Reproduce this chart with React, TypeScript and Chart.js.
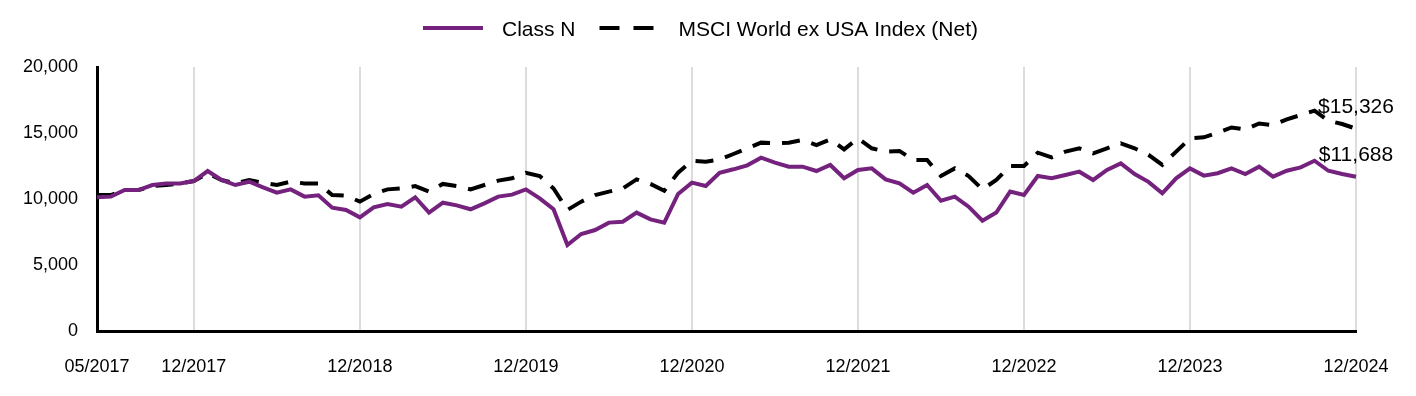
import React, { useEffect, useRef } from "react";
import { Chart, registerables } from "chart.js";

Chart.register(...registerables);

const months: string[] = [
  "05/2017", "06/2017", "07/2017", "08/2017", "09/2017", "10/2017", "11/2017", "12/2017",
  "01/2018", "02/2018", "03/2018", "04/2018", "05/2018", "06/2018", "07/2018", "08/2018", "09/2018", "10/2018", "11/2018", "12/2018",
  "01/2019", "02/2019", "03/2019", "04/2019", "05/2019", "06/2019", "07/2019", "08/2019", "09/2019", "10/2019", "11/2019", "12/2019",
  "01/2020", "02/2020", "03/2020", "04/2020", "05/2020", "06/2020", "07/2020", "08/2020", "09/2020", "10/2020", "11/2020", "12/2020",
  "01/2021", "02/2021", "03/2021", "04/2021", "05/2021", "06/2021", "07/2021", "08/2021", "09/2021", "10/2021", "11/2021", "12/2021",
  "01/2022", "02/2022", "03/2022", "04/2022", "05/2022", "06/2022", "07/2022", "08/2022", "09/2022", "10/2022", "11/2022", "12/2022",
  "01/2023", "02/2023", "03/2023", "04/2023", "05/2023", "06/2023", "07/2023", "08/2023", "09/2023", "10/2023", "11/2023", "12/2023",
  "01/2024", "02/2024", "03/2024", "04/2024", "05/2024", "06/2024", "07/2024", "08/2024", "09/2024", "10/2024", "11/2024", "12/2024",
];

const tickLabels: string[] = [
  "05/2017", "12/2017", "12/2018", "12/2019", "12/2020", "12/2021", "12/2022", "12/2023", "12/2024",
];

const classN: number[] = [
  10130, 10180, 10680, 10680, 11060, 11180, 11180, 11360,
  12120, 11440, 11060, 11310, 10880, 10480, 10730, 10180, 10280, 9340, 9170, 8610,
  9370, 9620, 9420, 10130, 8970, 9720, 9520, 9220, 9670, 10180, 10330, 10730,
  10050, 9220, 6510, 7350, 7650, 8210, 8280, 8970, 8460, 8210, 10380, 11240,
  10980, 11990, 12250, 12550, 13130, 12750, 12450, 12450, 12120, 12580, 11570, 12200,
  12320, 11490, 11180, 10480, 11060, 9870, 10180, 9420, 8360, 8970, 10560, 10300,
  11740, 11570, 11820, 12070, 11440, 12200, 12700, 11890, 11300, 10430, 11570, 12320,
  11770, 11950, 12320, 11890, 12450, 11690, 12140, 12400, 12900, 12140, 11890, 11688,
];

const msciWorldExUsa: number[] = [
  10300, 10300, 10680, 10680, 10980, 11060, 11180, 11360,
  11940, 11440, 11180, 11440, 11230, 11060, 11310, 11180, 11180, 10300, 10250, 9800,
  10380, 10730, 10800, 10980, 10560, 11140, 10980, 10730, 11060, 11390, 11570, 11990,
  11740, 10800, 9170, 9800, 10300, 10560, 10800, 11490, 11140, 10630, 11990, 12900,
  12830, 13000, 13410, 13840, 14270, 14220, 14270, 14470, 14090, 14520, 13760, 14590,
  13840, 13590, 13640, 12950, 12950, 11740, 12320, 11740, 10730, 11440, 12500, 12500,
  13510, 13160, 13590, 13840, 13460, 13840, 14220, 13840, 13350, 12580, 13590, 14590,
  14670, 15020, 15420, 15260, 15720, 15600, 16030, 16360, 16690, 15930, 15680, 15326,
];

const seriesNames: string[] = ["Class N", "MSCI World ex USA Index (Net)"];
const endLabels: string[] = ["$11,688", "$15,326"];

const PURPLE = "#74227e";
const FONT = "'Liberation Sans', Arial, sans-serif";

const legendPlugin = {
  id: "customLegend",
  afterDraw(chart: any) {
    const ctx = chart.ctx;
    const ds = chart.data.datasets;
    ctx.save();
    ctx.font = `21px ${FONT}`;
    const boxW = 60;
    const gap = 19;
    const itemGap = 24;
    const widths = ds.map((d: any) => ctx.measureText(d.label).width);
    let total = 0;
    widths.forEach((w: number, i: number) => {
      total += boxW + gap + w + (i < widths.length - 1 ? itemGap : 0);
    });
    let x = 700.5 - total / 2;
    const y = 28;
    ds.forEach((d: any, i: number) => {
      ctx.beginPath();
      ctx.lineWidth = 4;
      ctx.strokeStyle = d.borderColor;
      ctx.lineCap = "butt";
      ctx.setLineDash(d.borderDash && d.borderDash.length ? [20, 14] : []);
      ctx.moveTo(x, y);
      ctx.lineTo(x + boxW, y);
      ctx.stroke();
      ctx.setLineDash([]);
      ctx.fillStyle = "#000";
      ctx.textAlign = "left";
      ctx.textBaseline = "alphabetic";
      ctx.fillText(d.label, x + boxW + gap, 36);
      x += boxW + gap + widths[i] + itemGap;
    });
    ctx.restore();
  },
};

const endLabelPlugin = {
  id: "endLabels",
  afterDatasetsDraw(chart: any) {
    const ctx = chart.ctx;
    ctx.save();
    ctx.font = `21px ${FONT}`;
    ctx.fillStyle = "#000";
    ctx.textAlign = "center";
    ctx.textBaseline = "alphabetic";
    chart.data.datasets.forEach((d: any, i: number) => {
      const meta = chart.getDatasetMeta(i);
      const pt = meta.data[meta.data.length - 1];
      if (!pt) return;
      ctx.fillText(endLabels[i], pt.x, pt.y - 15.5);
    });
    ctx.restore();
  },
};

export default function App() {
  const canvasRef = useRef<HTMLCanvasElement | null>(null);

  useEffect(() => {
    document.body.style.margin = "0";
    const canvas = canvasRef.current;
    if (!canvas) return;
    const chart = new Chart(canvas, {
      type: "line",
      data: {
        labels: months,
        datasets: [
          {
            label: seriesNames[0],
            data: classN,
            borderColor: PURPLE,
            backgroundColor: PURPLE,
            borderWidth: 4,
            pointRadius: 0,
            tension: 0,
            fill: false,
          },
          {
            label: seriesNames[1],
            data: msciWorldExUsa,
            borderColor: "#000000",
            backgroundColor: "#000000",
            borderWidth: 4,
            borderDash: [18, 12],
            pointRadius: 0,
            tension: 0,
            fill: false,
          },
        ],
      },
      options: {
        responsive: false,
        animation: false,
        devicePixelRatio: 1,
        layout: { padding: { top: 67, right: 60, left: 0, bottom: 0 } },
        plugins: {
          legend: { display: false },
          tooltip: { enabled: false },
        },
        scales: {
          x: {
            type: "category",
            offset: false,
            afterFit(scale: any) {
              scale.height = 65;
            },
            grid: {
              display: true,
              drawTicks: false,
              lineWidth: 2,
              color: (c: any) =>
                tickLabels.includes(months[c.index]) && c.index !== 0 ? "#dcdcdc" : "rgba(0,0,0,0)",
            },
            border: { display: true, color: "#000", width: 3 },
            ticks: {
              autoSkip: false,
              maxRotation: 0,
              minRotation: 0,
              padding: 25,
              color: "#000",
              font: { family: FONT, size: 18 },
              callback: (_v: any, i: number) => (tickLabels.includes(months[i]) ? months[i] : ""),
            },
          },
          y: {
            min: 0,
            max: 20000,
            afterFit(scale: any) {
              scale.width = 97;
            },
            grid: { display: false, drawTicks: false },
            border: { display: true, color: "#000", width: 3 },
            ticks: {
              stepSize: 5000,
              padding: 19,
              color: "#000",
              font: { family: FONT, size: 18 },
              callback: (v: any) => Number(v).toLocaleString("en-US"),
            },
          },
        },
      },
      plugins: [legendPlugin, endLabelPlugin],
    });
    return () => chart.destroy();
  }, []);

  return (
    <div style={{ width: 1416, height: 396, background: "#fff" }}>
      <canvas ref={canvasRef} width={1416} height={396} style={{ display: "block" }} />
    </div>
  );
}
